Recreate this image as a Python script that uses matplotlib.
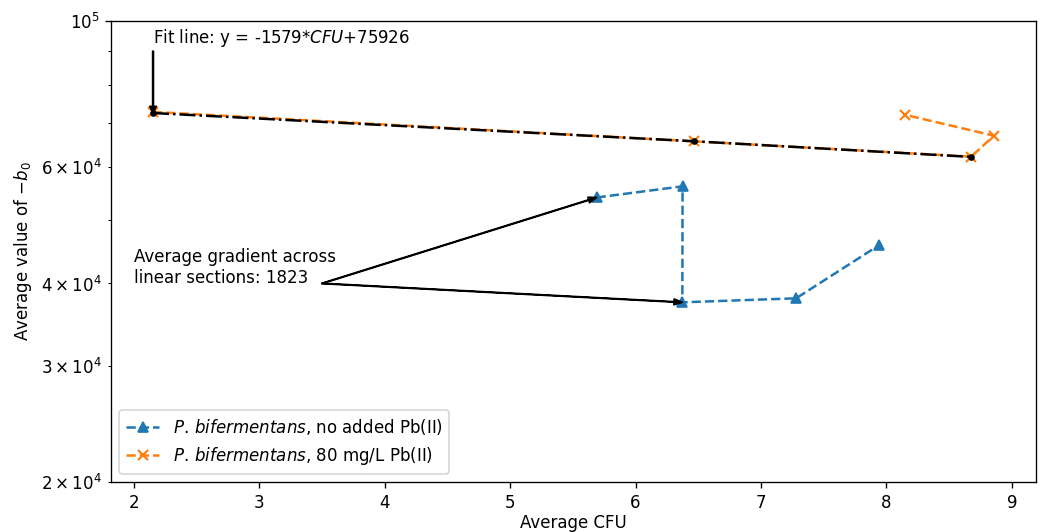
import matplotlib
matplotlib.use("Agg")
import matplotlib.pyplot as plt

# Data
blue_x = [5.69, 6.375, 6.373, 7.28, 7.94]
blue_y = [54000, 56150, 37450, 37980, 45700]

orange_x = [2.154, 6.466, 8.675, 8.857, 8.151]
orange_y = [72800, 65700, 62270, 67000, 72050]

fit_x = [2.154, 6.466, 8.675]
fit_y = [72525, 65716, 62228]

blue_label = r"$P.\,bifermentans$, no added Pb(II)"
orange_label = r"$P.\,bifermentans$, 80 mg/L Pb(II)"
fit_text = r"Fit line: y = -1579*$CFU$+75926"
grad_text = "Average gradient across\nlinear sections: 1823"
grad_origin = (3.5, 40000)

DPI = 120
fig = plt.figure(figsize=(1046 / DPI, 532 / DPI), dpi=DPI)
ax = fig.add_axes([111 / 1046, 1 - 482 / 532, (1036 - 111) / 1046, (482 - 21) / 532])

ax.plot(blue_x, blue_y, linestyle="--", marker="^", color="#1f77b4",
        markersize=6.5, linewidth=1.5, label=blue_label)
ax.plot(orange_x, orange_y, linestyle="--", marker="x", color="#ff7f0e",
        markersize=6.5, linewidth=1.5, markeredgewidth=1.3, label=orange_label)
ax.plot(fit_x, fit_y, linestyle="-.", marker="o", color="black",
        markersize=3, linewidth=1.5)

ax.set_yscale("log")
ax.set_ylim(2e4, 1e5)

# Fit line annotation
ax.annotate("", xy=(fit_x[0], fit_y[0]), xytext=(fit_x[0], 90000),
            arrowprops=dict(facecolor="black", width=0.5, headwidth=4, headlength=4))
ax.text(fit_x[0], 92700, fit_text, ha="left", va="baseline", fontsize=10)

# Gradient annotation
ax.text(2.0, 39480, grad_text, ha="left", va="bottom", fontsize=10)
for i in (0, 2):
    ax.annotate("", xy=(blue_x[i], blue_y[i]), xytext=grad_origin,
                arrowprops=dict(facecolor="black", width=0.3, headwidth=3.5, headlength=5))

ax.set_xlabel("Average CFU", labelpad=1.5)
ax.set_ylabel(r"Average value of $-b_0$")
ax.legend(loc="lower left")

fig.savefig("out.png", dpi=DPI)
